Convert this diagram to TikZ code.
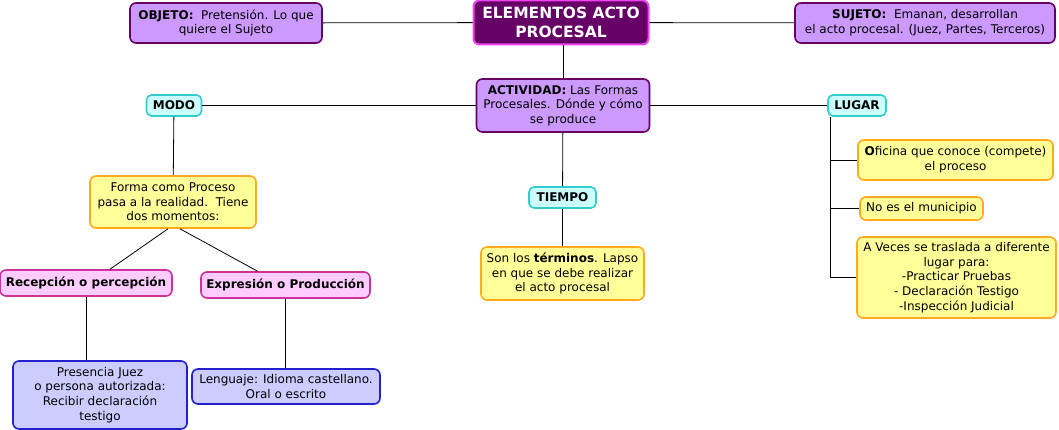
\documentclass[tikz,border=0pt]{standalone}
\usepackage{fontspec}
\setmainfont{DejaVu Sans}
\usepackage{tikz}
\usetikzlibrary{positioning}
\definecolor{violeta}{HTML}{CC99FF}
\definecolor{moradoosc}{HTML}{660066}
\definecolor{morado}{HTML}{660066}
\definecolor{rosa}{HTML}{EE44EE}
\definecolor{celeste}{HTML}{CCFFFF}
\definecolor{turquesa}{HTML}{33CCCC}
\definecolor{amarillo}{HTML}{FFFF99}
\definecolor{naranja}{HTML}{FFAA22}
\definecolor{rosado}{HTML}{FFCCFF}
\definecolor{fucsia}{HTML}{CC3399}
\definecolor{lila}{HTML}{CCCCFF}
\definecolor{azul}{HTML}{2222CC}
\tikzstyle{central} = [rectangle, rounded corners=6pt, draw=rosa, line width=2pt, fill=morado, text=white, font=\bfseries\fontsize{15.5}{19.5}\selectfont, align=center, inner sep=0pt]
\tikzstyle{element} = [rectangle, rounded corners=6pt, draw=moradoosc, line width=1.6pt, fill=violeta, align=center, inner sep=0pt]
\tikzstyle{branch} = [rectangle, rounded corners=5pt, draw=turquesa, line width=1.6pt, fill=celeste, align=center, inner sep=0pt, font=\bfseries\fontsize{12}{14.7}\selectfont]
\tikzstyle{note} = [rectangle, rounded corners=6pt, draw=naranja, line width=1.6pt, fill=amarillo, align=center, inner sep=0pt]
\tikzstyle{moment} = [rectangle, rounded corners=6pt, draw=fucsia, line width=1.6pt, fill=rosado, align=center, inner sep=0pt, font=\bfseries\fontsize{12}{14.7}\selectfont]
\tikzstyle{detail} = [rectangle, rounded corners=6pt, draw=azul, line width=1.6pt, fill=lila, align=center, inner sep=0pt]
\tikzstyle{line} = [black, line width=0.8pt]
\begin{document}
\begin{tikzpicture}[x=1pt, y=-1pt, font=\fontsize{12}{14.7}\selectfont]
\useasboundingbox (0,0) rectangle (1059,430);
\node (elementos) [central, minimum width=175pt, minimum height=44pt] at (561,22.5) {ELEMENTOS ACTO\\PROCESAL};
\node (objeto) [element, minimum width=192pt, minimum height=40pt] at (226,23) {\textbf{OBJETO:}\ \ Pretensión. Lo que\\quiere el Sujeto};
\node (sujeto) [element, minimum width=260pt, minimum height=40pt] at (925,23) {\textbf{SUJETO:}\ \ Emanan, desarrollan\\el acto procesal. (Juez, Partes, Terceros)};
\node (actividad) [element, minimum width=173pt, minimum height=53pt] at (563,105.5) {\textbf{ACTIVIDAD:} Las Formas\\Procesales. Dónde y cómo\\se produce};
\node (modo) [branch, minimum width=55pt, minimum height=21pt] at (174,105.5) {MODO};
\node (lugar) [branch, minimum width=58pt, minimum height=21pt] at (857,105.5) {LUGAR};
\node (tiempo) [branch, minimum width=67pt, minimum height=21pt] at (562.5,197.5) {TIEMPO};
\node (forma) [note, minimum width=166pt, minimum height=52pt] at (173,202) {Forma como Proceso\\pasa a la realidad.\ \ Tiene\\dos momentos:};
\node (recepcion) [moment, minimum width=172pt, minimum height=26pt] at (86,283) {Recepción o percepción};
\node (expresion) [moment, minimum width=169pt, minimum height=26pt] at (285.5,285) {Expresión o Producción};
\node (presencia) [detail, minimum width=174pt, minimum height=68pt] at (100,395) {Presencia Juez\\o persona autorizada:\\Recibir declaración\\testigo};
\node (lenguaje) [detail, minimum width=188pt, minimum height=35pt] at (286,386.5) {Lenguaje: Idioma castellano.\\Oral o escrito};
\node (terminos) [note, minimum width=163pt, minimum height=53pt] at (562.5,273.5) {Son los \textbf{términos}. Lapso\\en que se debe realizar\\el acto procesal};
\node (oficina) [note, minimum width=195pt, minimum height=40pt] at (955.5,160) {\textbf{O}ficina que conoce (compete)\\el proceso};
\node (municipio) [note, minimum width=123pt, minimum height=23pt] at (921.5,208.5) {No es el municipio};
\node (aveces) [note, minimum width=199pt, minimum height=81pt] at (956.5,277.5) {A Veces se traslada a diferente\\lugar para:\\-Practicar Pruebas\\- Declaración Testigo\\-Inspección Judicial};
\coordinate (tronco) at ([xshift=-27pt]lugar.south);
\draw [line] (objeto) -- (elementos);
\draw [line] (elementos) -- (sujeto);
\draw [line] (actividad) -- (actividad |- elementos.south);
\draw [line] (actividad) -- (modo);
\draw [line] (actividad) -- (lugar);
\draw [line] (actividad) -- (tiempo);
\draw [line] (tiempo) -- (terminos);
\draw [line] (modo) -- (forma);
\draw [line] ([xshift=-5pt]forma.south) -- ([xshift=24pt]recepcion.north);
\draw [line] ([xshift=7pt]forma.south) -- ([xshift=-28pt]expresion.north);
\draw [line] (recepcion) -- (recepcion |- presencia.north);
\draw [line] (expresion) -- (expresion |- lenguaje.north);
\draw [line] (tronco) -- (tronco |- aveces.west) -- (aveces.west);
\draw [line] (tronco |- oficina.west) -- (oficina.west);
\draw [line] (tronco |- municipio.west) -- (municipio.west);
\end{tikzpicture}
\end{document}
